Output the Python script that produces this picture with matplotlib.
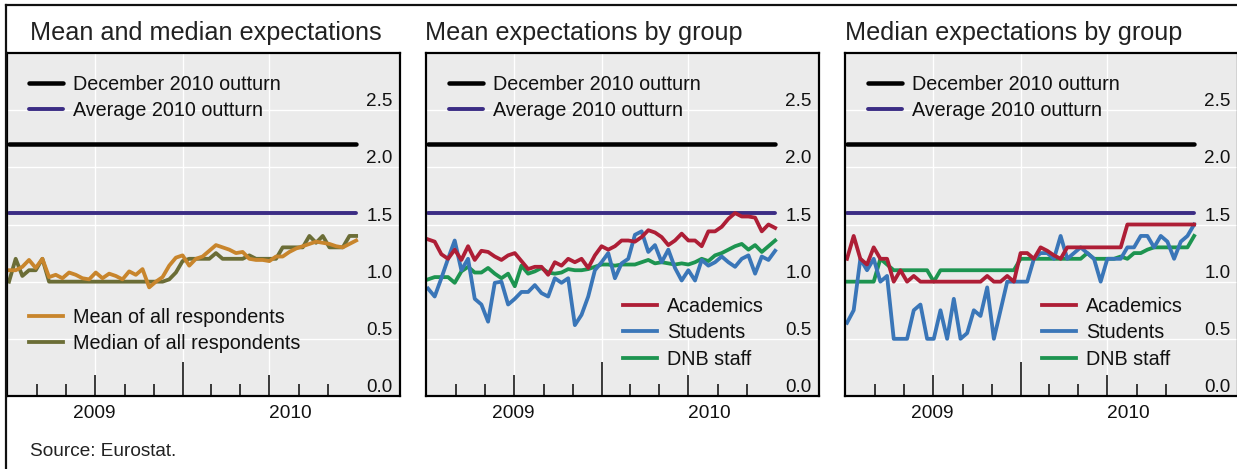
import matplotlib
matplotlib.use("Agg")
import matplotlib.pyplot as plt
import matplotlib.dates as mdates
from matplotlib.lines import Line2D
import pandas as pd

plt.rcParams['font.family'] = ['Liberation Sans', 'DejaVu Sans']

# ---------------- data ----------------
survey_dates = pd.date_range("2009-01-01", periods=53, freq="14D")

dec_2010_outturn = 2.2
avg_2010_outturn = 1.6

mean_all = [1.10, 1.10, 1.13, 1.19, 1.12, 1.20, 1.04, 1.06, 1.03, 1.08,
            1.06, 1.03, 1.02, 1.08, 1.03, 1.07, 1.05, 1.02, 1.09, 1.06,
            1.11, 0.95, 1.00, 1.04, 1.14, 1.21, 1.23, 1.14, 1.20, 1.22,
            1.27, 1.32, 1.30, 1.28, 1.25, 1.26, 1.20, 1.19, 1.19, 1.18,
            1.22, 1.22, 1.26, 1.29, 1.31, 1.33, 1.35, 1.34, 1.33, 1.31,
            1.30, 1.33, 1.36]
median_all = [1.0, 1.2, 1.05, 1.1, 1.1, 1.2, 1.0, 1.0, 1.0, 1.0,
              1.0, 1.0, 1.0, 1.0, 1.0, 1.0, 1.0, 1.0, 1.0, 1.0,
              1.0, 1.0, 1.0, 1.0, 1.02, 1.08, 1.18, 1.2, 1.2, 1.2,
              1.2, 1.25, 1.2, 1.2, 1.2, 1.2, 1.23, 1.2, 1.2, 1.2,
              1.2, 1.3, 1.3, 1.3, 1.3, 1.4, 1.34, 1.4, 1.3, 1.3,
              1.3, 1.4, 1.4]

mean_academics = [1.37, 1.35, 1.24, 1.20, 1.28, 1.19, 1.31, 1.19, 1.27, 1.26,
                  1.22, 1.19, 1.23, 1.25, 1.18, 1.11, 1.13, 1.13, 1.06, 1.17,
                  1.14, 1.20, 1.17, 1.20, 1.12, 1.23, 1.31, 1.28, 1.31, 1.36,
                  1.36, 1.35, 1.39, 1.45, 1.43, 1.39, 1.32, 1.36, 1.42, 1.36,
                  1.36, 1.31, 1.44, 1.44, 1.48, 1.55, 1.60, 1.57, 1.57, 1.56,
                  1.44, 1.50, 1.47]
mean_students = [0.94, 0.87, 1.03, 1.20, 1.36, 1.10, 1.20, 0.85, 0.80, 0.65,
                 0.99, 1.00, 0.80, 0.85, 0.91, 0.91, 0.97, 0.90, 0.87, 1.03,
                 0.99, 1.03, 0.62, 0.71, 0.87, 1.10, 1.17, 1.25, 1.03, 1.16,
                 1.20, 1.41, 1.44, 1.26, 1.32, 1.17, 1.28, 1.12, 1.01, 1.10,
                 1.01, 1.19, 1.14, 1.17, 1.22, 1.17, 1.13, 1.20, 1.23, 1.07,
                 1.22, 1.19, 1.27]
mean_dnb_staff = [1.02, 1.04, 1.04, 1.04, 0.99, 1.09, 1.13, 1.08, 1.08, 1.12,
                  1.07, 1.03, 1.07, 0.96, 1.14, 1.07, 1.09, 1.12, 1.08, 1.07,
                  1.08, 1.11, 1.10, 1.10, 1.11, 1.13, 1.15, 1.15, 1.14, 1.15,
                  1.15, 1.15, 1.17, 1.19, 1.16, 1.17, 1.16, 1.15, 1.16, 1.15,
                  1.17, 1.20, 1.18, 1.23, 1.25, 1.28, 1.31, 1.33, 1.28, 1.32,
                  1.26, 1.31, 1.36]

median_academics = [1.2, 1.4, 1.2, 1.15, 1.3, 1.2, 1.2, 1.0, 1.1, 1.0,
                    1.05, 1.0, 1.0, 1.0, 1.0, 1.0, 1.0, 1.0, 1.0, 1.0,
                    1.0, 1.05, 1.0, 1.0, 1.05, 1.0, 1.25, 1.25, 1.2, 1.3,
                    1.27, 1.23, 1.2, 1.3, 1.3, 1.3, 1.3, 1.3, 1.3, 1.3,
                    1.3, 1.3, 1.5, 1.5, 1.5, 1.5, 1.5, 1.5, 1.5, 1.5,
                    1.5, 1.5, 1.5]
median_students = [0.64, 0.75, 1.2, 1.1, 1.2, 1.0, 1.05, 0.5, 0.5, 0.5,
                   0.75, 0.8, 0.5, 0.5, 0.75, 0.5, 0.85, 0.5, 0.55, 0.75,
                   0.7, 0.95, 0.5, 0.75, 1.0, 1.0, 1.0, 1.0, 1.2, 1.25,
                   1.25, 1.2, 1.4, 1.2, 1.25, 1.3, 1.25, 1.2, 1.0, 1.2,
                   1.2, 1.2, 1.3, 1.3, 1.4, 1.4, 1.3, 1.4, 1.35, 1.2,
                   1.35, 1.4, 1.5]
median_dnb_staff = [1.0, 1.0, 1.0, 1.0, 1.0, 1.2, 1.15, 1.1, 1.1, 1.1,
                    1.1, 1.1, 1.1, 1.0, 1.1, 1.1, 1.1, 1.1, 1.1, 1.1,
                    1.1, 1.1, 1.1, 1.1, 1.1, 1.1, 1.2, 1.2, 1.2, 1.2,
                    1.2, 1.2, 1.2, 1.2, 1.2, 1.2, 1.25, 1.2, 1.2, 1.2,
                    1.2, 1.22, 1.2, 1.25, 1.25, 1.28, 1.3, 1.3, 1.3, 1.3,
                    1.3, 1.3, 1.4]

panel_titles = ["Mean and median expectations",
                "Mean expectations by group",
                "Median expectations by group"]
outturn_labels = ["December 2010 outturn", "Average 2010 outturn"]
all_labels = ["Mean of all respondents", "Median of all respondents"]
group_labels = ["Academics", "Students", "DNB staff"]

y_ticks = [0.0, 0.5, 1.0, 1.5, 2.0, 2.5]
y_tick_labels = ["0.0", "0.5", "1.0", "1.5", "2.0", "2.5"]
year_labels = ["2009", "2010"]
year_label_dates = [pd.Timestamp("2009-06-28"), pd.Timestamp("2010-08-15")]
grid_dates = [pd.Timestamp("2009-07-01"), pd.Timestamp("2010-01-01"),
              pd.Timestamp("2010-07-01")]
minor_tick_dates = [pd.Timestamp(d) for d in
                    ["2009-03-01", "2009-05-01", "2009-09-01", "2009-11-01",
                     "2010-03-01", "2010-05-01", "2010-09-01", "2010-11-01"]]
source_text = "Source: Eurostat."

# ---------------- style ----------------
C_BLACK = "#000000"
C_PURPLE = "#3b2c84"
C_ORANGE = "#c8852c"
C_OLIVE = "#6b6d36"
C_RED = "#ae1e36"
C_BLUE = "#3a76b8"
C_GREEN = "#1d9450"
BG = "#ebebeb"

W, H = 1237, 469
PX = 0.72  # points per pixel at dpi 100
fig = plt.figure(figsize=(W / 100, H / 100), dpi=100)

x_left = mdates.date2num(pd.Timestamp("2009-01-01")) - 4.2
x_right = mdates.date2num(pd.Timestamp("2009-01-01")) + 820

panel_lefts = [7, 426, 845]
data_lw = 3.8 * PX
FS_TITLE = 18.2
FS_LEG = 14.2
FS_TICK = 13.6
FS_YEAR = 13.8

def setup_axes(ax, title, title_x):
    ax.set_facecolor(BG)
    ax.set_xlim(x_left, x_right)
    ax.set_ylim(0, 3)
    ax.set_yticks(y_ticks)
    ax.set_yticklabels(y_tick_labels, ha="right", va="bottom")
    ax.tick_params(axis="y", which="both", length=0, left=False, right=False,
                   labelleft=False, labelright=True, pad=-7.5 * PX,
                   labelsize=FS_TICK, labelcolor="#111111")
    ax.set_xticks(grid_dates)
    ax.set_xticks(minor_tick_dates, minor=True)
    ax.set_xticklabels([])
    ax.tick_params(axis="x", which="major", direction="in", length=21 * PX,
                   width=1.6 * PX, color="#111111", labelbottom=False)
    ax.tick_params(axis="x", which="minor", direction="in", length=12 * PX,
                   width=1.6 * PX, color="#111111", labelbottom=False)
    ax.xaxis.get_major_ticks()[1].tick1line.set_markersize(34 * PX)
    ax.grid(True, which="major", color="white", linewidth=1.4 * PX)
    ax.set_axisbelow(True)
    for sp in ax.spines.values():
        sp.set_linewidth(2.2 * PX)
        sp.set_color("#000000")
    for lab, d in zip(year_labels, year_label_dates):
        ax.text(d, -0.05, lab, transform=ax.get_xaxis_transform(),
                ha="center", va="center", fontsize=FS_YEAR, color="#111111")
    ax.text(title_x, 1.058, title, transform=ax.transAxes, ha="left",
            va="center", fontsize=FS_TITLE, color="#222222")

def outturns(ax):
    l1, = ax.plot([survey_dates[0], survey_dates[-1]], [dec_2010_outturn] * 2,
                  color=C_BLACK, lw=4.5 * PX, solid_capstyle="round",
                  label=outturn_labels[0])
    l2, = ax.plot([survey_dates[0], survey_dates[-1]], [avg_2010_outturn] * 2,
                  color=C_PURPLE, lw=3.9 * PX, solid_capstyle="round",
                  label=outturn_labels[1])
    return [l1, l2]

def legend(ax, handles, x, y):
    leg = ax.legend(handles=handles, loc="upper left", bbox_to_anchor=(x, y),
                    frameon=False, fontsize=FS_LEG, handlelength=1.71,
                    handletextpad=0.5, labelspacing=0.38, borderpad=0,
                    borderaxespad=0)
    for t in leg.get_texts():
        t.set_color("#111111")
    return leg

# Panel 1
ax1 = fig.add_axes([panel_lefts[0] / W, (H - 396) / H, 393 / W, 343 / H])
setup_axes(ax1, panel_titles[0], 0.0585)
h_out = outturns(ax1)
m1, = ax1.plot(survey_dates, median_all, color=C_OLIVE, lw=data_lw,
               solid_joinstyle="round", label=all_labels[1])
m0, = ax1.plot(survey_dates, mean_all, color=C_ORANGE, lw=data_lw,
               solid_joinstyle="round", label=all_labels[0])
lg = legend(ax1, h_out, 0.056, 0.9364)
ax1.add_artist(lg)
legend(ax1, [m0, m1], 0.056, 0.257)

# Panel 2
ax2 = fig.add_axes([panel_lefts[1] / W, (H - 396) / H, 393 / W, 343 / H])
setup_axes(ax2, panel_titles[1], -0.003)
h_out = outturns(ax2)
g2, = ax2.plot(survey_dates, mean_dnb_staff, color=C_GREEN, lw=data_lw,
               solid_joinstyle="round", label=group_labels[2])
s2, = ax2.plot(survey_dates, mean_students, color=C_BLUE, lw=data_lw,
               solid_joinstyle="round", label=group_labels[1])
a2, = ax2.plot(survey_dates, mean_academics, color=C_RED, lw=data_lw,
               solid_joinstyle="round", label=group_labels[0])
lg = legend(ax2, h_out, 0.0585, 0.9364)
ax2.add_artist(lg)
legend(ax2, [a2, s2, g2], 0.502, 0.289)

# Panel 3
ax3 = fig.add_axes([panel_lefts[2] / W, (H - 396) / H, 393 / W, 343 / H])
setup_axes(ax3, panel_titles[2], 0.0)
h_out = outturns(ax3)
g3, = ax3.plot(survey_dates, median_dnb_staff, color=C_GREEN, lw=data_lw,
               solid_joinstyle="round", label=group_labels[2])
s3, = ax3.plot(survey_dates, median_students, color=C_BLUE, lw=data_lw,
               solid_joinstyle="round", label=group_labels[1])
a3, = ax3.plot(survey_dates, median_academics, color=C_RED, lw=data_lw,
               solid_joinstyle="round", label=group_labels[0])
lg = legend(ax3, h_out, 0.0585, 0.9364)
ax3.add_artist(lg)
legend(ax3, [a3, s3, g3], 0.502, 0.289)

# frame lines of the figure
fig.add_artist(Line2D([6 / W, 6 / W], [0, 1 - 5 / H], color="#111111",
                      lw=2.2 * PX, transform=fig.transFigure))
fig.add_artist(Line2D([6 / W, 1], [1 - 5 / H, 1 - 5 / H], color="#111111",
                      lw=2.2 * PX, transform=fig.transFigure))

fig.text(30 / W, 1 - 451 / H, source_text, ha="left", va="center",
         fontsize=FS_LEG - 0.5, color="#222222")

fig.savefig("out.png", dpi=100)
